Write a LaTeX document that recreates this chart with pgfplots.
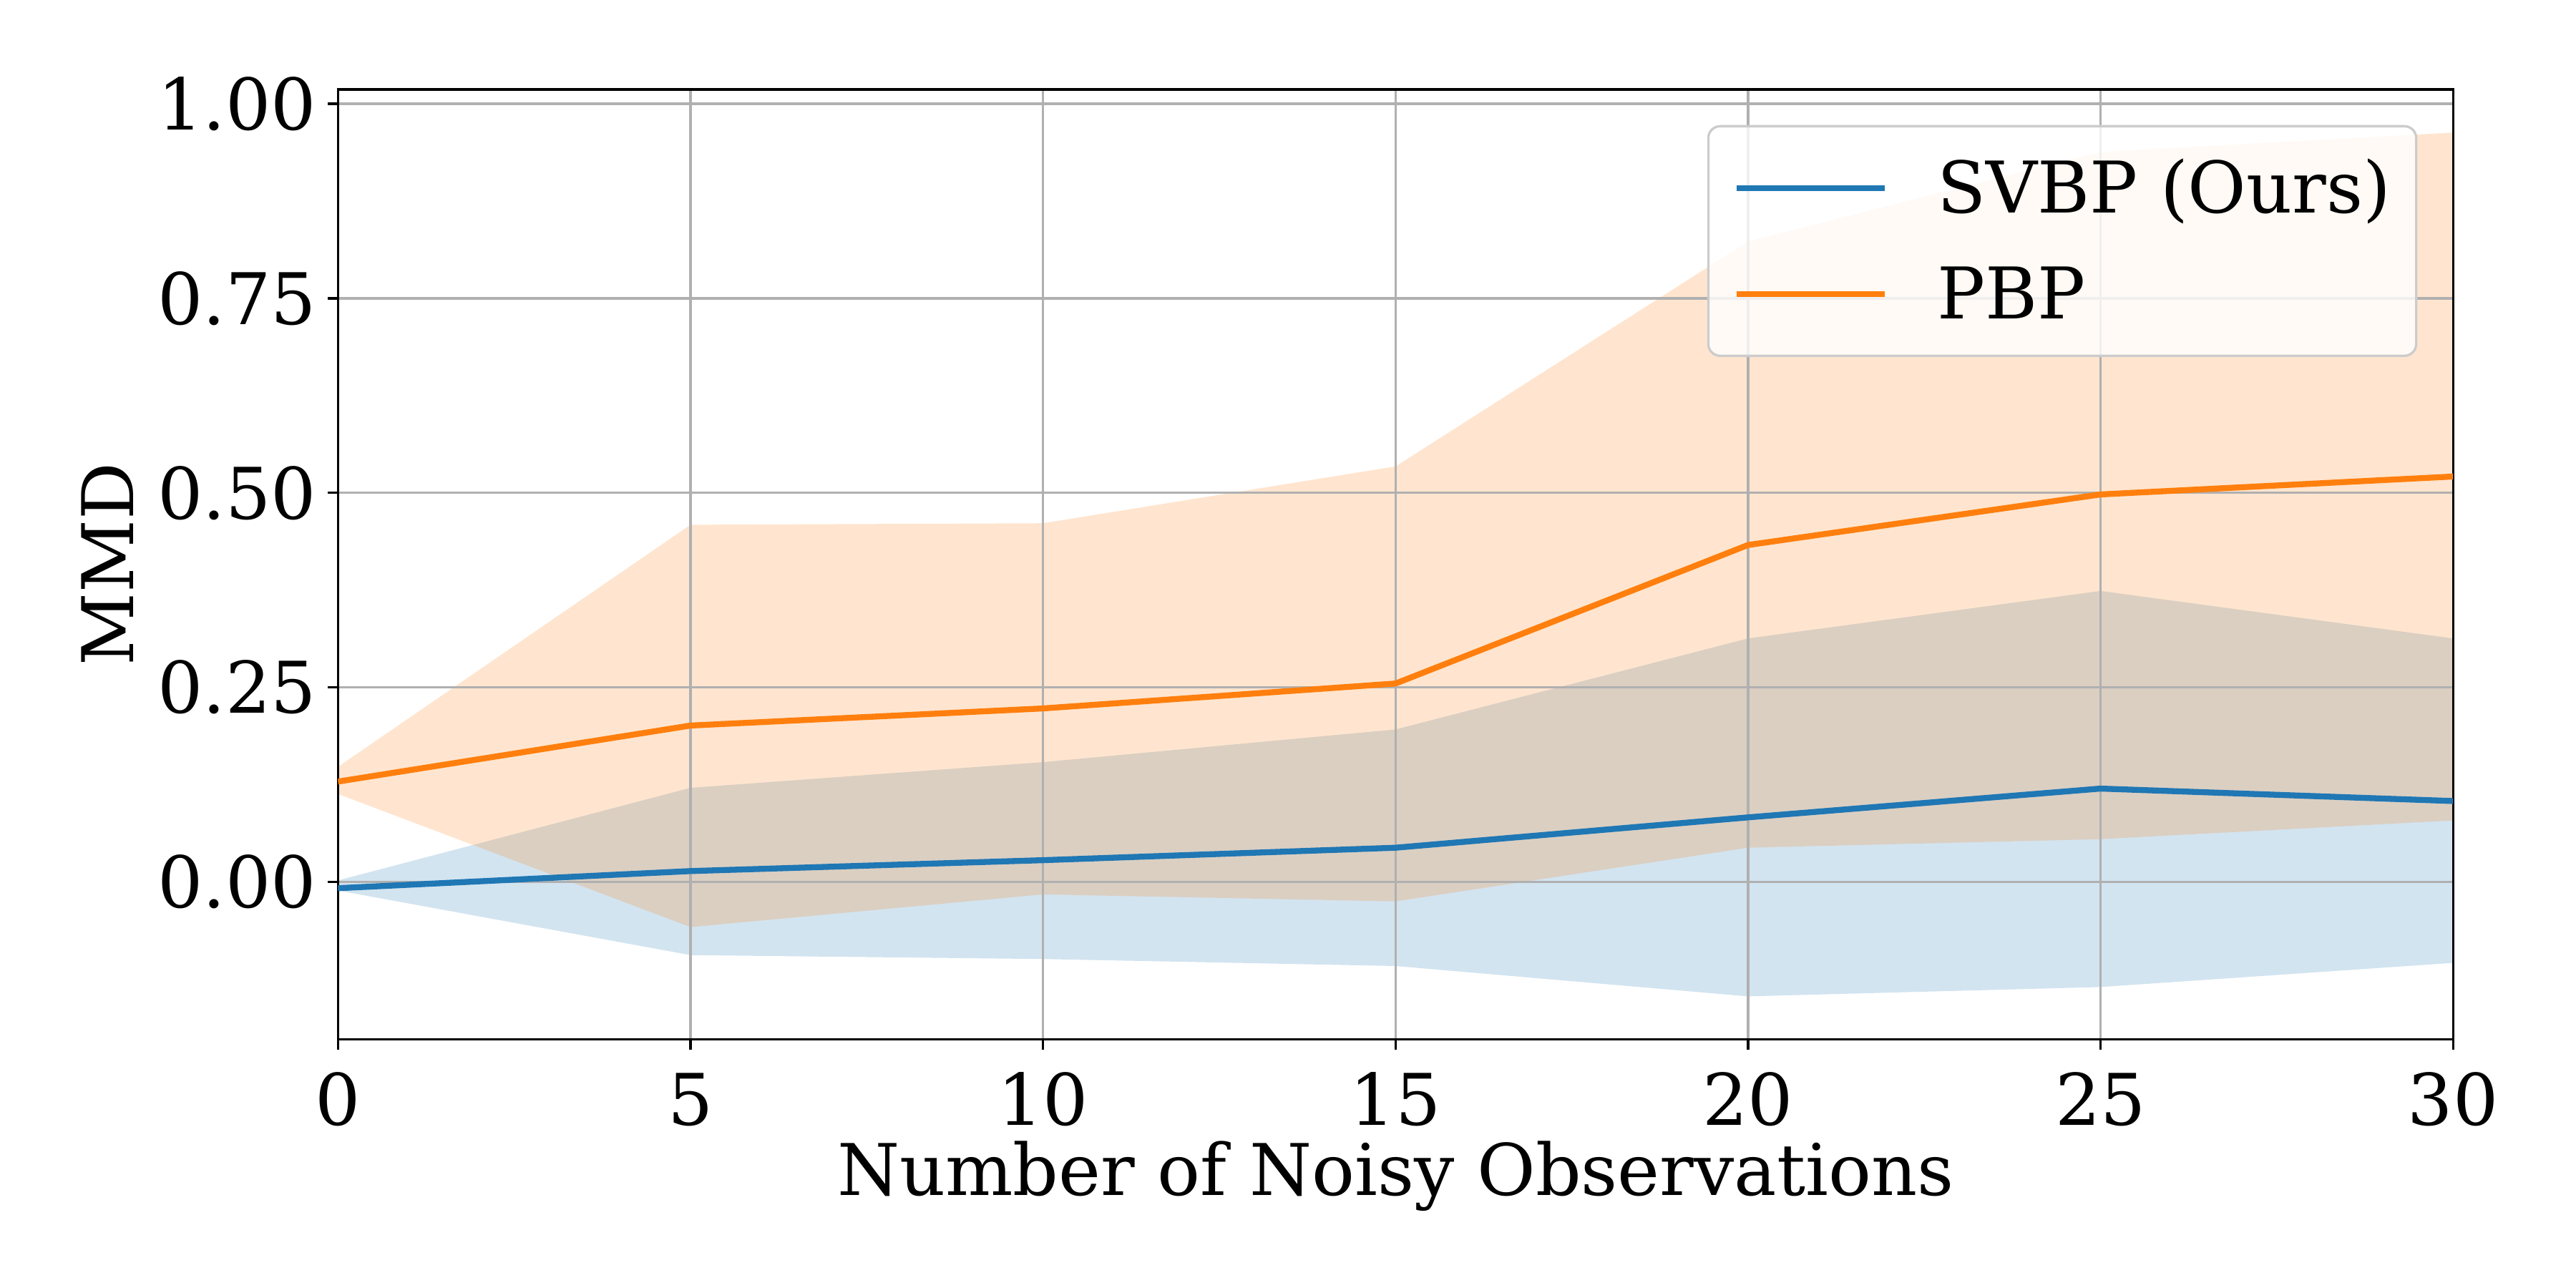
\documentclass[border=0pt]{standalone}
\usepackage{fontspec}
\setmainfont{DejaVu Serif}
\usepackage{pgfplots}
\pgfplotsset{compat=1.18}
\definecolor{tabblue}{HTML}{1F77B4}
\definecolor{taborange}{HTML}{FF7F0E}
\definecolor{gridgray}{HTML}{B0B0B0}
\definecolor{legframe}{HTML}{CCCCCC}
\begin{document}
\begin{tikzpicture}
\begin{axis}[
  set layers,
  scale only axis,
  width=712.1pt, height=319.9pt,
  xmin=0, xmax=30, ymin=-0.2025, ymax=1.0185,
  xtick={0,5,10,15,20,25,30},
  ytick={0,0.25,0.5,0.75,1},
  yticklabel style={/pgf/number format/fixed, /pgf/number format/fixed zerofill, /pgf/number format/precision=2},
  /pgf/number format/assume math mode=true,
  tick label style={font=\fontsize{24}{29}\selectfont},
  xticklabel style={anchor=base, inner sep=0pt, yshift=-25.3pt},
  yticklabel style={anchor=east, inner sep=0pt, xshift=-3.6pt},
  tick align=outside,
  xtick pos=bottom, ytick pos=left,
  major tick length=3.5pt,
  every tick/.style={black, line width=0.8pt},
  axis line style={line width=0.8pt, black},
  grid=major,
  major grid style={gridgray, line width=0.8pt},
  label style={font=\fontsize{24}{29}\selectfont},
  xlabel={Number of Noisy Observations},
  ylabel={MMD},
  xlabel style={at={(axis description cs:0.5,-0.1642)}, anchor=base},
  ylabel style={at={(axis description cs:-0.0966,0.5)}, anchor=base},
  legend cell align=left,
  legend image code/.code={\draw[#1, line width=2pt] (0pt,0pt) -- (50pt,0pt);},
  legend style={at={(rel axis cs:1,1)}, anchor=north east, xshift=-12pt, yshift=-12pt,
    draw=legframe, line width=0.8pt, rounded corners=4pt, fill=white, fill opacity=0.8,
    text opacity=1, draw opacity=1, font=\fontsize{24}{29}\selectfont,
    inner xsep=8.5pt, inner ysep=9.2pt, row sep=12.5pt, column sep=16.5pt,
    nodes={inner sep=0pt, text height=20pt, text depth=3.2pt}},
]
% uncertainty bands
\addplot[on layer=axis background, forget plot, draw=none, fill=tabblue, fill opacity=0.2]
  coordinates {(0,0.002) (5,0.121) (10,0.154) (15,0.196) (20,0.313) (25,0.374) (30,0.313)
               (30,-0.104) (25,-0.135) (20,-0.147) (15,-0.108) (10,-0.099) (5,-0.094) (0,-0.011)} -- cycle;
\addplot[on layer=axis background, forget plot, draw=none, fill=taborange, fill opacity=0.2]
  coordinates {(0,0.148) (5,0.459) (10,0.461) (15,0.534) (20,0.823) (25,0.938) (30,0.963)
               (30,0.079) (25,0.055) (20,0.044) (15,-0.025) (10,-0.016) (5,-0.058) (0,0.113)} -- cycle;
% means
\addplot[tabblue, line width=2pt, mark=none]
  coordinates {(0,-0.008) (5,0.014) (10,0.028) (15,0.044) (20,0.083) (25,0.120) (30,0.104)};
\addlegendentry{SVBP (Ours)}
\addplot[taborange, line width=2pt, mark=none]
  coordinates {(0,0.129) (5,0.201) (10,0.223) (15,0.255) (20,0.433) (25,0.498) (30,0.521)};
\addlegendentry{PBP}
\coordinate (ll) at (rel axis cs:0,0);
\coordinate (ur) at (rel axis cs:1,1);
\end{axis}
\pgfresetboundingbox
\path ([shift={(-113.8pt,-83.6pt)}]ll) rectangle ([shift={(41.4pt,30.1pt)}]ur);
\end{tikzpicture}
\end{document}
